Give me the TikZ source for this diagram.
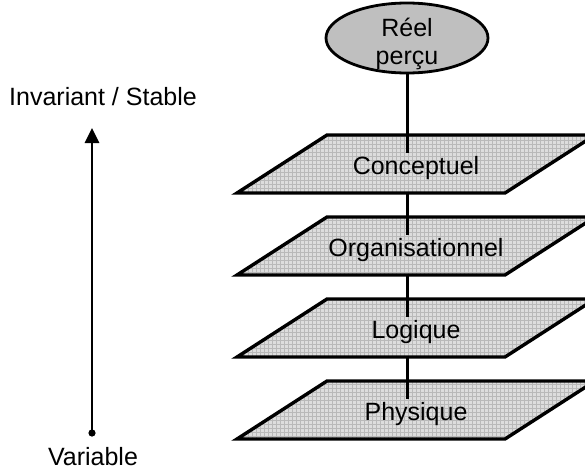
\documentclass[tikz,border=0pt]{standalone}
\usepackage{fontspec}
\setmainfont{Liberation Sans}
\usetikzlibrary{shapes.geometric,arrows.meta}
\begin{document}
\begin{tikzpicture}[x=1pt,y=-1pt,font=\fontsize{25}{28}\selectfont,
  planeborder/.style={draw,line width=3.4pt,line join=miter},
  gridline/.style={draw=gray!55,line width=0.45pt},
  lbl/.style={inner sep=3pt},
  conn/.style={line width=3pt}]
\useasboundingbox (0,0) rectangle (585,474);
\clip (0,0) rectangle (585,474);
\foreach \t/\nm/\txt in {135/c/Conceptuel,217/o/Organisationnel,299/l/Logique,381/p/Physique}{
  \fill[gray!27] (237,\t+58) -- (505,\t+58) -- (595,\t) -- (327,\t) -- cycle;
  \begin{scope}
    \clip (237,\t+58) -- (505,\t+58) -- (595,\t) -- (327,\t) -- cycle;
    \draw[gridline,step=4pt] (228,\t-4) grid (600,\t+64);
  \end{scope}
  \draw[planeborder] (237,\t+58) -- (505,\t+58) -- (595,\t) -- (327,\t) -- cycle;
  \node[lbl] (\nm) at (416,\t+33) {\txt};
  \coordinate (\nm b) at (407,\t+58);
}
\node[ellipse,draw,line width=2.8pt,fill=gray!50,minimum width=162pt,minimum height=70pt,inner sep=0pt] (reel) at (407,38) {};
\node[align=center,inner sep=0pt] (reeltxt) at (407,44) {R\'eel\\per\c{c}u};
\draw[conn] (reel.south) -- (reel.south |- c.north);
\draw[conn] (cb) -- (cb |- o.north);
\draw[conn] (ob) -- (ob |- l.north);
\draw[conn] (lb) -- (lb |- p.north);
\coordinate (vb) at (92,433);
\coordinate (vt) at (92,128);
\draw[line width=2.8pt,-{Triangle[length=15pt,width=14pt]}] (vb) -- (vt);
\fill (vb) circle (3.6pt);
\node (inv) at (103,97) {Invariant / Stable};
\node (var) at (93,457) {Variable};
\end{tikzpicture}
\end{document}
